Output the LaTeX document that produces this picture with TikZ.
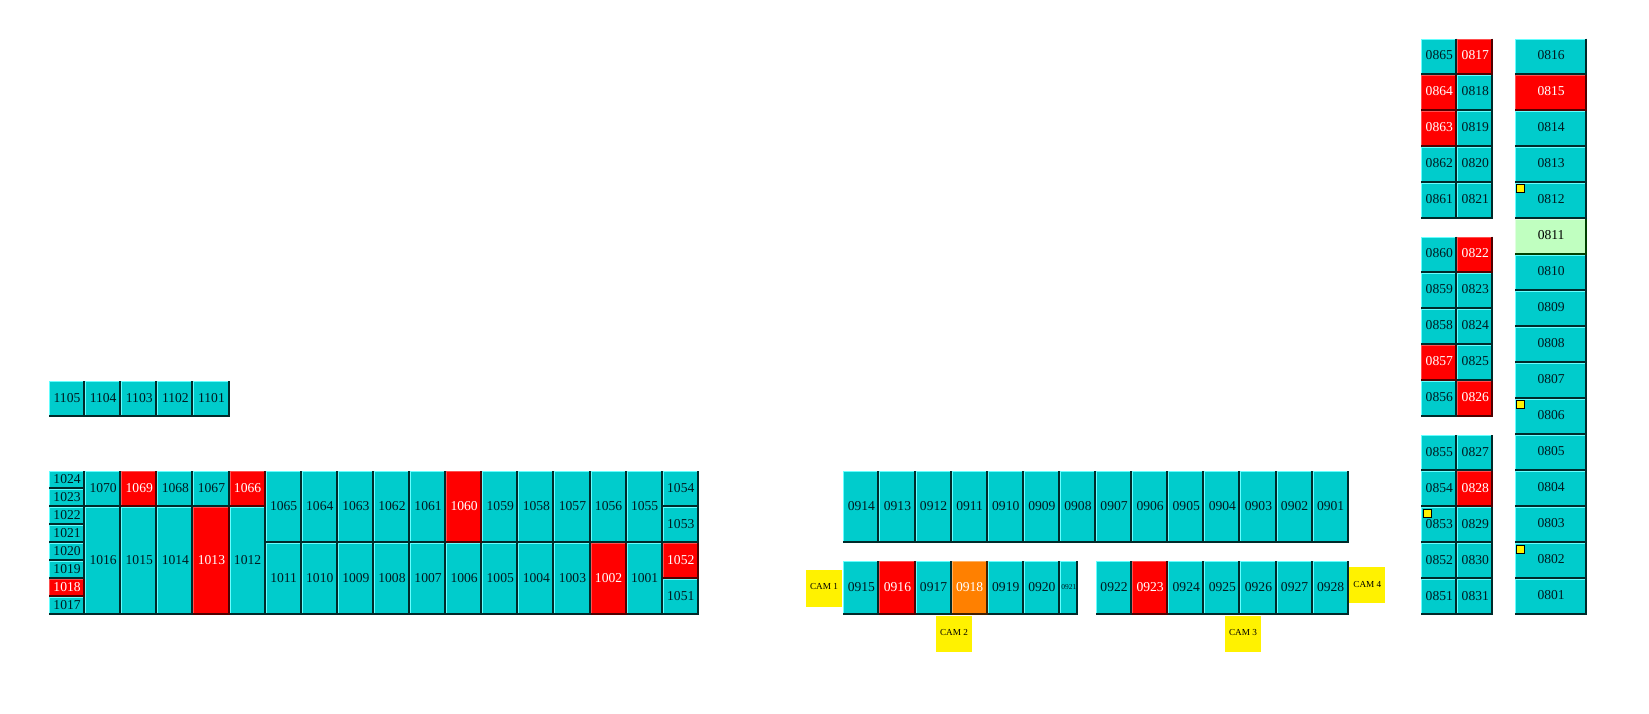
\documentclass[tikz,border=0pt]{standalone}
\usepackage{fontspec}
\setmainfont{Liberation Serif}
\definecolor{cyF}{HTML}{00CCCC}\definecolor{cyL}{HTML}{66FFFF}\definecolor{cyD}{HTML}{002A2A}\definecolor{cyT}{HTML}{001A20}
\definecolor{rdF}{HTML}{FF0000}\definecolor{rdL}{HTML}{FF5050}\definecolor{rdD}{HTML}{500000}\definecolor{rdT}{HTML}{FFFFFF}
\definecolor{orF}{HTML}{FF8000}\definecolor{orL}{HTML}{FFB060}\definecolor{orD}{HTML}{402000}\definecolor{orT}{HTML}{FFFFFF}
\definecolor{gnF}{HTML}{C0FFC0}\definecolor{gnL}{HTML}{E0FFE0}\definecolor{gnD}{HTML}{004000}\definecolor{gnT}{HTML}{000000}
\newcommand\bayfont{\fontsize{13.6}{14}\selectfont}
\newcommand\tinyfont{\fontsize{7.5}{8}\selectfont}
\newcommand\camfont{\fontsize{9.2}{10}\selectfont}
\tikzset{
  x=1pt,y=1pt,
  bay/.style={anchor=north west,inner sep=0pt,outer sep=0pt,draw=none,align=center},
  camera/.style={anchor=north west,inner sep=0pt,outer sep=0pt,fill=yellow,text=black,minimum width=36pt,minimum height=36.5pt,font=\camfont},
  flag/.style={anchor=north west,inner sep=0pt,outer sep=0pt,fill=yellow,draw=black,line width=0.9pt,minimum width=7.5pt,minimum height=7.5pt},
  lightedge/.style={line width=1pt},
  darkedge/.style={line width=2pt},
}
% \bay[font]{label}{x}{y}{w}{h}{kind}
\newcommand\bay[7][\bayfont]{%
  \node[bay,fill=#7F,minimum width=#5pt,minimum height=#6pt,text=#7T] (c#2) at ({#3},{-(#4)}) {\raisebox{2.5pt}{#1#2}};
  \draw[lightedge,#7L] ([xshift=.5pt]c#2.south west) -- ([xshift=.5pt]c#2.north west);
  \draw[lightedge,#7L] ([yshift=-.5pt]c#2.north west) -- ([yshift=-.5pt]c#2.north east);
  \draw[darkedge,#7D] ([xshift=-1pt]c#2.north east) -- ([xshift=-1pt]c#2.south east);
  \draw[darkedge,#7D] ([yshift=1pt]c#2.south west) -- ([yshift=1pt]c#2.south east);
}
\begin{document}
\begin{tikzpicture}
\useasboundingbox (0,0) rectangle (1649,-713);
% 11xx row
\foreach \n/\k in {1105/0,1104/1,1103/2,1102/3,1101/4}
  \bay{\n}{49+36.1*\k}{381}{36.1}{36}{cy};
% left stack
\foreach \n/\k/\kd in {1024/0/cy,1023/1/cy,1022/2/cy,1021/3/cy,1020/4/cy,1019/5/cy,1018/6/rd,1017/7/cy}
  \bay{\n}{49}{471+18*\k}{36.1}{18}{\kd};
\foreach \n/\k/\kd in {1070/1/cy,1069/2/rd,1068/3/cy,1067/4/cy,1066/5/rd}
  \bay{\n}{49+36.1*\k}{471}{36.1}{36}{\kd};
\foreach \n/\k/\kd in {1016/1/cy,1015/2/cy,1014/3/cy,1013/4/rd,1012/5/cy}
  \bay{\n}{49+36.1*\k}{507}{36.1}{108}{\kd};
\foreach \n/\k/\kd in {1065/6/cy,1064/7/cy,1063/8/cy,1062/9/cy,1061/10/cy,1060/11/rd,1059/12/cy,1058/13/cy,1057/14/cy,1056/15/cy,1055/16/cy}
  \bay{\n}{49+36.1*\k}{471}{36.1}{72}{\kd};
\foreach \n/\k/\kd in {1011/6/cy,1010/7/cy,1009/8/cy,1008/9/cy,1007/10/cy,1006/11/cy,1005/12/cy,1004/13/cy,1003/14/cy,1002/15/rd,1001/16/cy}
  \bay{\n}{49+36.1*\k}{543}{36.1}{72}{\kd};
\foreach \n/\k/\kd in {1054/0/cy,1053/1/cy,1052/2/rd,1051/3/cy}
  \bay{\n}{662.7}{471+36*\k}{36.1}{36}{\kd};
% 09xx
\foreach \n/\k in {0914/0,0913/1,0912/2,0911/3,0910/4,0909/5,0908/6,0907/7,0906/8,0905/9,0904/10,0903/11,0902/12,0901/13}
  \bay{\n}{843.3+36.1*\k}{471}{36.1}{72}{cy};
\foreach \n/\k/\kd in {0915/0/cy,0916/1/rd,0917/2/cy,0918/3/or,0919/4/cy,0920/5/cy,0922/7/cy,0923/8/rd,0924/9/cy,0925/10/cy,0926/11/cy,0927/12/cy,0928/13/cy}
  \bay{\n}{843.3+36.1*\k}{561}{36.1}{54}{\kd};
\bay[\tinyfont]{0921}{1059.9}{561}{18}{54}{cy};
% 08xx double columns
\foreach \a/\akd/\b/\bkd/\k in {0865/cy/0817/rd/0,0864/rd/0818/cy/1,0863/rd/0819/cy/2,0862/cy/0820/cy/3,0861/cy/0821/cy/4}{
  \bay{\a}{1421.3}{38.5+36*\k}{36}{36}{\akd};
  \bay{\b}{1457.3}{38.5+36*\k}{36}{36}{\bkd};
}
\foreach \a/\akd/\b/\bkd/\k in {0860/cy/0822/rd/0,0859/cy/0823/cy/1,0858/cy/0824/cy/2,0857/rd/0825/cy/3,0856/cy/0826/rd/4}{
  \bay{\a}{1421.3}{236.5+36*\k}{36}{36}{\akd};
  \bay{\b}{1457.3}{236.5+36*\k}{36}{36}{\bkd};
}
\foreach \a/\akd/\b/\bkd/\k in {0855/cy/0827/cy/0,0854/cy/0828/rd/1,0853/cy/0829/cy/2,0852/cy/0830/cy/3,0851/cy/0831/cy/4}{
  \bay{\a}{1421.3}{435+36*\k}{36}{36}{\akd};
  \bay{\b}{1457.3}{435+36*\k}{36}{36}{\bkd};
}
% wide column
\foreach \n/\k/\kd in {0816/0/cy,0815/1/rd,0814/2/cy,0813/3/cy,0812/4/cy,0811/5/gn,0810/6/cy,0809/7/cy,0808/8/cy,0807/9/cy,0806/10/cy,0805/11/cy,0804/12/cy,0803/13/cy,0802/14/cy,0801/15/cy}
  \bay{\n}{1515.3}{38.5+36*\k}{71.6}{36}{\kd};
% flags
\node[flag] (f0812) at (1516.5,-184.5) {};
\node[flag] (f0806) at (1516.5,-400.5) {};
\node[flag] (f0802) at (1516.5,-545.5) {};
\node[flag] (f0853) at (1423.5,-509.5) {};
% cameras
\node[camera] (cam1) at (806,-570.3) {\raisebox{4pt}{CAM 1}};
\node[camera] (cam2) at (936,-615.7) {\raisebox{3pt}{CAM 2}};
\node[camera] (cam3) at (1225,-615.7) {\raisebox{2.5pt}{CAM 3}};
\node[camera] (cam4) at (1349.3,-566.7) {\raisebox{2pt}{CAM 4}};
\end{tikzpicture}
\end{document}
